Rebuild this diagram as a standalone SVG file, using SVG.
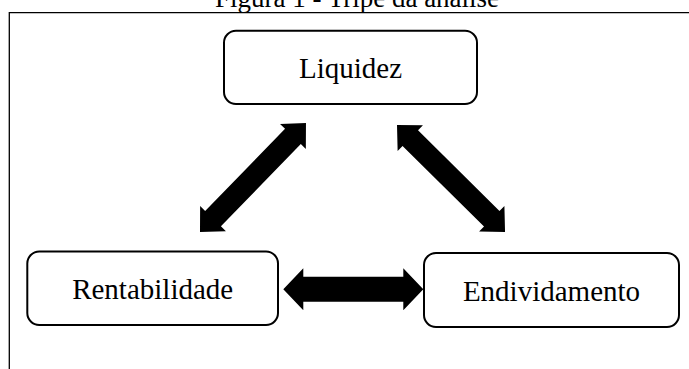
<svg xmlns="http://www.w3.org/2000/svg" width="689" height="369" viewBox="0 0 689 369">
<style>
.box{fill:#fff;stroke:#000;stroke-width:2}
.lbl{font-family:"Liberation Serif","Times New Roman",serif;font-size:29px;fill:#000;text-anchor:middle}
.arr{fill:#000;stroke:none}
</style>
<rect width="689" height="369" fill="#fff"/>
<text x="357" y="7" style="font-family:'Liberation Serif','Times New Roman',serif;font-size:27px;text-anchor:middle">Figura 1 - Tripé da análise</text>
<path d="M9.3,369 V12.7 H689" fill="none" stroke="#000" stroke-width="1.3"/>
<g id="connectors">
<path class="arr" transform="translate(200,232) rotate(-45.8)" d="M0,0 L18.7,-18 L18.7,-11 L133.3,-11 L133.3,-18 L152,0 L133.3,18 L133.3,11 L18.7,11 L18.7,18 Z"/>
<path class="arr" transform="translate(397,125) rotate(44.7)" d="M0,0 L18.7,-18 L18.7,-11 L133.3,-11 L133.3,-18 L152,0 L133.3,18 L133.3,11 L18.7,11 L18.7,18 Z"/>
<path class="arr" transform="translate(283.3,289.3)" d="M0,0 L20,-21 L20,-12.5 L120,-12.5 L120,-21 L140,0 L120,21 L120,12.5 L20,12.5 L20,21 Z"/>
</g>
<g id="liquidez">
<rect class="box" x="224" y="30.7" width="253" height="73.3" rx="12"/>
<text class="lbl" x="350.5" y="78">Liquidez</text>
</g>
<g id="rentabilidade">
<rect class="box" x="27.3" y="251.5" width="250.7" height="73.5" rx="12"/>
<text class="lbl" x="152.7" y="299">Rentabilidade</text>
</g>
<g id="endividamento">
<rect class="box" x="424" y="253" width="255" height="74" rx="12"/>
<text class="lbl" x="551.5" y="300.7">Endividamento</text>
</g>
</svg>
